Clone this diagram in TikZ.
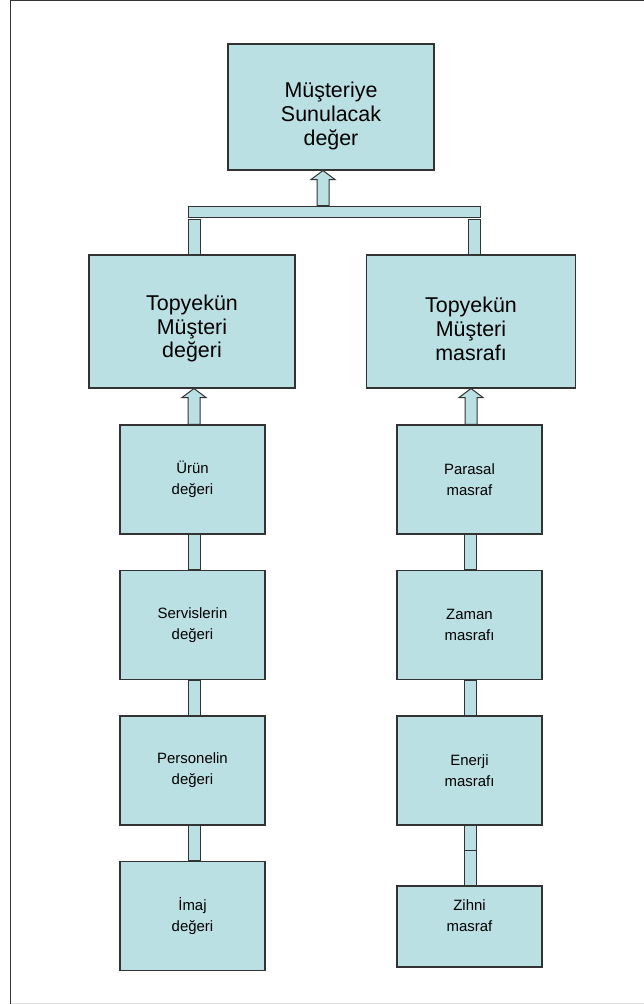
\documentclass[tikz,border=0pt]{standalone}
\usepackage{fontspec}
\setmainfont{Liberation Sans}
\usetikzlibrary{calc}
\definecolor{boxfill}{HTML}{BBE0E3}
\definecolor{edge}{HTML}{333333}
\definecolor{framegray}{HTML}{DDDDDD}

% upward block arrow: #1 lower node, #2 upper node, #3 x shift of the tip
\newcommand\blockup[3]{%
  \draw[bar] let \p1=($(#2.south)+(#3,0)$), \p2=(#1.north) in
    (\x1,\y1) -- (\x1+12bp,\y1-9bp) -- (\x1+6bp,\y1-9bp) -- (\x1+6bp,\y2)
    -- (\x1-6bp,\y2) -- (\x1-6bp,\y1-9bp) -- (\x1-12bp,\y1-9bp) -- cycle;}
% plain link bar between two stacked boxes
\newcommand\linkbar[3]{%
  \draw[bar] ($(#1.south)+(#3-6,0)$) rectangle ($(#2.north)+(#3+6,0)$);}

\begin{document}
\begin{tikzpicture}[x=1bp,y=-1bp,
  box/.style={draw=edge, line width=1.1bp, fill=boxfill, inner sep=0pt, align=center},
  bigbox/.style={box},
  bigtext/.style={inner sep=0pt, align=center, font=\fontsize{21.5}{24}\selectfont},
  small/.style={box, minimum width=145bp, minimum height=109bp,
    font=\fontsize{15}{21}\selectfont},
  smalltext/.style={inner sep=0pt, align=center, font=\fontsize{15}{21}\selectfont},
  bar/.style={draw=edge, line width=1bp, fill=boxfill}]
\useasboundingbox (0,0) rectangle (644,1004);

% page frame
\draw[framegray, line width=1bp] (10,1003) -- (644,1003);
\draw[edge, line width=1.2bp] (10.5,1004) -- (10.5,0.6) -- (644,0.6);

% top level
\node[bigbox, minimum width=206bp, minimum height=126bp] (top) at (331,107) {};
\node[bigtext] (toptext) at ($(top.center)+(0,9)$)
  {Müşteriye\\Sunulacak\\değer};

% second level
\node[bigbox, minimum width=206bp, minimum height=133bp] (midL) at (192,321.5) {};
\node[bigtext] (midLtext) at ($(midL.center)+(0,7)$) {Topyekün\\Müşteri\\değeri};
\node[bigbox, minimum width=209bp, minimum height=133bp] (midR) at (471,321.5) {};
\node[bigtext] (midRtext) at ($(midR.center)+(0,7)$) {Topyekün\\Müşteri\\masrafı};

% joining bar and its stubs
\node[bar, minimum width=292bp, minimum height=11bp, inner sep=0pt] (hub) at (334,211.5) {};
\draw[bar] ($(midL.north)+(-4,0)$) rectangle ($(midL.north |- hub.south)+(8,2)$);
\draw[bar] ($(midR.north)+(-3,0)$) rectangle ($(midR.north |- hub.south)+(9,2)$);
\blockup{hub}{top}{-8}

% value column
\node[small] (urun) at (192.5,479.5) {Ürün\\değeri};
\node[small] (serv) at (192.5,625)   {Servislerin\\değeri};
\node[small] (pers) at (192.5,770.5) {Personelin\\değeri};
\node[small] (imaj) at (192.5,916)   {İmaj\\değeri};
\blockup{urun}{midL}{2}
\linkbar{urun}{serv}{1.5}
\linkbar{serv}{pers}{1.5}
\linkbar{pers}{imaj}{1.5}

% cost column
\node[small] (para) at (469.5,479.5) {Parasal\\masraf};
\node[small] (zam)  at (469.5,625)   {Zaman\\masrafı};
\node[small] (ener) at (469.5,770.5) {Enerji\\masrafı};
\node[box, minimum width=145bp, minimum height=81bp] (zihn) at (469.5,926.5) {};
\node[smalltext] (zihntext) at (469.5,916) {Zihni\\masraf};
\blockup{para}{midR}{0}
\linkbar{para}{zam}{0.5}
\linkbar{zam}{ener}{0.5}
\coordinate (brk) at ($(ener.south)!0.42!(zihn.north)$);
\draw[bar] ($(ener.south)+(-5.5,0)$) rectangle ($(brk)+(6.5,0)$);
\draw[bar] ($(brk)+(-5.5,0)$) rectangle ($(zihn.north)+(6.5,0)$);
\end{tikzpicture}
\end{document}
